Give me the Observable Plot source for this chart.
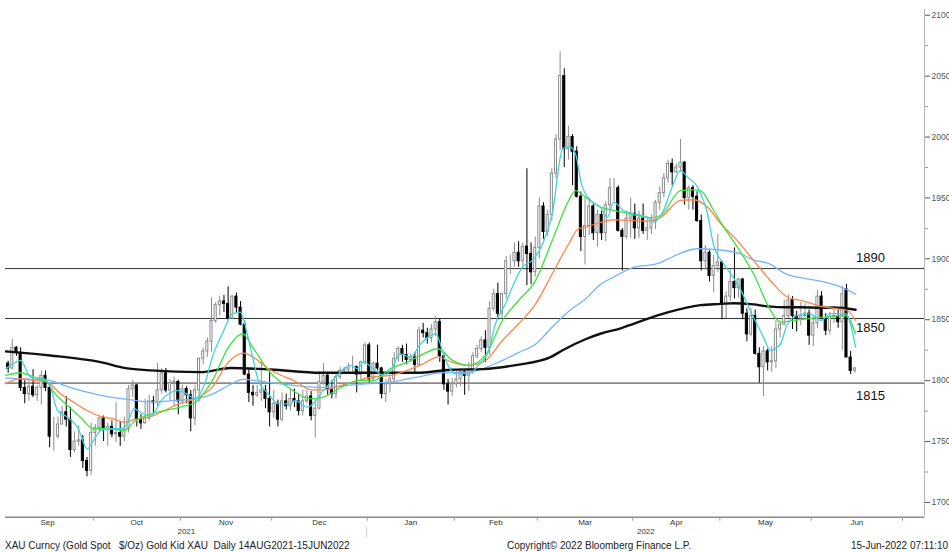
<!DOCTYPE html>
<html><head><meta charset="utf-8">
<script src="https://cdn.jsdelivr.net/npm/d3@7"></script>
<script src="https://cdn.jsdelivr.net/npm/@observablehq/plot@0.6"></script>
<style>
html,body{margin:0;padding:0;background:#fff;}
#wrap{position:relative;width:949px;height:552px;overflow:hidden;font-family:'Liberation Sans',Arial,sans-serif;background:#fff;}
#chart svg{display:block}
.foot{position:absolute;top:539px;font-size:10px;line-height:13px;color:#222;white-space:pre;}
</style></head><body>
<div id="wrap"><div id="chart"></div>
<div class="foot" id="f1" style="left:5px"></div>
<div class="foot" id="f2" style="left:507px"></div>
<div class="foot" id="f3" style="left:851px"></div>
</div>
<script>
// ---- Daily candles, 1 Sep 2021 .. 15 Jun 2022 (trading-day index = position) ----
const open = [
1813,1814,1810,1827,1823,1794,1789,1795,1788,1794,1804,1794,1754,1754,1764,1774,1768,1743,1750,1751,1734,1726,
1757,1761,1769,1760,1762,1756,1757,1754,1760,1793,1796,1768,1765,1769,1783,1782,1792,1806,1792,1798,1799,
1783,1793,1788,1769,1792,1818,1824,1832,1849,1862,1865,1863,1851,1869,1860,1846,1805,1790,1788,1790,1792,1785,
1774,1781,1768,1783,1779,1785,1783,1775,1783,1787,1771,1777,1799,1804,1793,1789,1803,1808,1809,1811,1811,1805,1815,
1829,1801,1814,1810,1789,1797,1801,1818,1826,1821,1817,1819,1813,1841,1839,1835,1842,1848,1820,1797,1791,
1797,1801,1807,1804,1808,1820,1826,1833,1827,1859,1871,1855,1871,1898,1898,1905,1898,1910,1904,1889,
1909,1943,1922,1936,1970,1998,2050,1990,2000,1988,1951,1918,1927,1943,1921,1936,1921,1944,1958,1958,1923,1918,1933,
1937,1925,1933,1923,1925,1931,1946,1954,1966,1978,1971,1975,1979,1950,1958,1951,1931,1898,1905,1886,1894,
1897,1863,1869,1881,1876,1883,1855,1838,1853,1822,1811,1824,1815,1816,1842,1846,1853,1866,1853,1851,1853,1855,
1837,1847,1869,1851,1841,1852,1853,1848,1875,1819,1808];
const high = [
1820,1816,1834,1828,1827,1800,1800,1809,1796,1808,1808,1797,1770,1770,1779,1787,1778,1758,1763,1755,1737,1765,
1764,1770,1771,1765,1767,1782,1766,1770,1796,1800,1797,1772,1785,1788,1787,1814,1810,1810,1801,1803,1800,
1796,1795,1792,1796,1818,1827,1835,1868,1864,1869,1870,1877,1870,1872,1865,1849,1810,1796,1796,1815,1796,1808,
1792,1784,1790,1789,1793,1793,1789,1792,1792,1791,1783,1807,1814,1806,1800,1807,1811,1811,1814,1820,1812,1816,1831,
1831,1815,1829,1811,1801,1804,1823,1828,1829,1830,1822,1823,1844,1847,1843,1846,1853,1851,1821,1801,1802,
1808,1810,1809,1815,1823,1829,1836,1841,1865,1875,1880,1872,1902,1903,1913,1914,1913,1974,1913,1918,
1950,1946,1940,1974,2002,2070,2056,2009,2002,1992,1955,1950,1950,1945,1940,1939,1947,1966,1966,1960,1925,1939,1950,
1945,1939,1945,1933,1936,1948,1959,1970,1981,1982,1978,1998,1980,1960,1960,1955,1936,1911,1907,1903,1920,
1898,1873,1891,1909,1884,1884,1859,1859,1858,1827,1828,1826,1828,1849,1849,1866,1870,1869,1857,1864,1863,1858,
1853,1874,1873,1855,1856,1860,1858,1877,1879,1824,1811];
const low = [
1808,1806,1809,1820,1791,1781,1783,1786,1783,1780,1791,1745,1742,1752,1764,1762,1737,1741,1746,1728,1721,1722,
1746,1757,1750,1746,1753,1749,1746,1750,1757,1786,1762,1760,1764,1767,1772,1779,1789,1790,1783,1779,1772,
1780,1781,1758,1763,1782,1813,1819,1823,1847,1853,1856,1849,1850,1855,1845,1804,1782,1779,1786,1783,1777,1762,
1769,1762,1766,1776,1775,1778,1771,1771,1781,1767,1753,1776,1796,1788,1785,1785,1801,1805,1805,1806,1790,1800,1813,
1798,1799,1808,1785,1782,1790,1799,1815,1815,1813,1815,1805,1812,1835,1830,1831,1836,1815,1792,1780,1787,
1794,1795,1788,1791,1805,1818,1823,1815,1821,1857,1850,1851,1867,1887,1893,1893,1894,1878,1879,1885,
1900,1916,1918,1931,1966,1989,1975,1981,1960,1950,1906,1895,1919,1915,1910,1915,1914,1939,1947,1922,1890,1916,1917,
1916,1917,1920,1915,1920,1924,1940,1950,1962,1960,1970,1971,1944,1940,1940,1930,1890,1891,1881,1872,1889,
1850,1851,1865,1867,1868,1850,1832,1836,1821,1798,1787,1808,1807,1810,1835,1845,1851,1842,1840,1845,1850,1829,
1828,1843,1850,1837,1838,1847,1843,1825,1819,1805,1806];
const close = [
1814,1810,1827,1823,1794,1789,1795,1788,1794,1804,1794,1754,1754,1764,1774,1768,1743,1750,1751,1734,1726,1757,
1761,1769,1760,1762,1756,1757,1754,1760,1793,1796,1768,1765,1769,1783,1782,1792,1806,1792,1798,1799,1783,
1793,1788,1769,1792,1818,1824,1832,1849,1862,1865,1863,1851,1869,1860,1846,1805,1790,1788,1790,1792,1785,1774,
1781,1768,1783,1779,1785,1783,1775,1783,1787,1771,1777,1799,1804,1793,1789,1803,1808,1809,1811,1811,1805,1815,1829,
1801,1814,1810,1789,1797,1801,1818,1826,1821,1817,1819,1813,1841,1839,1835,1842,1848,1820,1797,1791,1797,
1801,1807,1804,1808,1820,1826,1833,1827,1859,1871,1855,1871,1898,1898,1905,1898,1910,1904,1889,1909,
1943,1922,1936,1970,1998,2050,1990,2000,1988,1951,1918,1927,1943,1921,1936,1921,1944,1958,1958,1923,1918,1933,1937,
1925,1933,1923,1925,1931,1946,1954,1966,1978,1971,1975,1979,1950,1958,1951,1931,1898,1905,1886,1894,1897,
1863,1869,1881,1876,1883,1855,1838,1853,1822,1811,1824,1815,1816,1842,1846,1853,1866,1853,1851,1853,1855,1837,
1847,1869,1851,1841,1852,1853,1848,1871,1819,1808,1810];

// ---- Moving averages (trading-day index, value) ----
const cyanIdx = [0.4,2.3,4.0,6.4,9.6,11.2,12.9,15.3,17.7,20.1,21.6,23.3,25.7,28.1,29.7,31.3,32.9,35.3,38.2,42.1,44.5,46.1,48.6,50.2,52.6,55.1,57.0,58.2,59.9,61.3,63.7,66.1,68.6,70.2,73.1,77.0,80.3,83.5,85.2,86.6,89.0,91.5,93.1,95.5,97.9,100.4,104.0,106.4,108.8,111.9,114.3,116.8,118.4,120.8,122.5,124.9,127.3,129.8,132.1,134.6,136.1,137.7,139.1,141.3,143.7,145.4,146.9,149.3,151.7,155.0,156.6,158.9,161.3,163.0,164.7,167.1,169.5,171.0,173.4,176.7,180.6,183.0,184.7,187.1,188.8,191.2,194.3,196.8,199.2,202.8,205.2];
const cyanVal = [1810,1814,1816.6,1803,1801.6,1794.7,1775.5,1770,1761.8,1744,1751,1759,1760.5,1760.5,1764.6,1777,1774,1771,1785,1792,1788,1785,1800,1819.3,1838.5,1855,1856.3,1844,1819.3,1800.2,1789.2,1781,1781,1783.7,1778.2,1792,1804.3,1812.5,1809.8,1815.2,1809.8,1804.3,1808.4,1822,1819.3,1830.3,1838.5,1816.6,1805.7,1805.7,1812.5,1824.8,1846.7,1863,1876.8,1893.2,1898.7,1912.4,1937,1990.4,1992.3,1986.3,1962,1948,1942.5,1934.2,1946.6,1939.7,1937,1934.2,1930.1,1939.7,1961.7,1972.6,1967,1958.9,1937,1911,1896,1879.6,1852,1835.7,1824.8,1830.3,1846.7,1853.5,1854.9,1849.4,1855,1855,1827.5];
const greenIdx = [0.4,4.0,7.2,10.4,12.0,15.3,18.4,21.6,25.7,28.9,31.3,34.1,42.1,46.1,50.2,54.1,57.5,59.9,63.7,69.0,73.9,77.0,81.1,85.2,89.0,93.1,97.2,101.1,104.5,108.1,111.9,116.0,120.1,124.0,128.1,132.1,136.1,137.7,140.1,143.7,146.9,150.9,155.8,158.2,163.0,166.2,167.8,171.0,172.7,176.7,180.6,184.7,187.1,190.2,196.8,202.8,205.2];
const greenVal = [1804.3,1806.5,1803,1798.8,1790.6,1779.6,1770,1760.5,1760.5,1759,1766,1771,1778,1782.3,1800,1827.5,1838.5,1827.5,1808.4,1793.3,1785,1786.5,1794.2,1800,1800,1809.8,1815.2,1822,1826.2,1816.6,1812.5,1820.7,1849.4,1865.8,1882.3,1915,1948,1956,1950.7,1942.5,1939.7,1937,1933.7,1935.6,1956,1956.7,1956,1939.7,1930,1909.6,1887.8,1857.6,1848,1849.4,1852,1853.5,1838.5];
const orangeIdx = [0.4,4.0,7.2,10.4,13.6,16.8,20.0,23.3,26.3,28.9,31.3,35.0,42.1,46.1,50.2,54.1,57.7,60.6,63.7,67.8,70.2,73.9,77.0,81.1,85.2,89.0,93.1,97.2,101.1,104.5,108.1,111.9,116.0,120.1,124.0,128.1,132.1,136.1,138.4,140.1,146.9,155.0,158.2,163.0,166.2,169.5,172.7,176.7,180.6,184.7,188.8,192.7,196.8,200.8,203.2,205.2];
const orangeVal = [1797.5,1801.6,1800.2,1798.8,1789.2,1782.3,1775.5,1770.6,1768.7,1766,1767.9,1770,1781,1785,1794.7,1815.2,1822.6,1818,1809.8,1802.9,1799.5,1792.5,1792.5,1796,1800,1803,1804.3,1808.4,1814,1819.3,1815,1812.5,1816.6,1833,1846.7,1863,1887.8,1912.4,1924.7,1926,1932,1931,1934,1948,1948.5,1942.5,1928.8,1915,1898.7,1882,1868.5,1865.3,1861,1859,1857.6,1849.4];
const blueIdx = [0.4,7.1,11.2,15.3,23.3,31.2,35.3,42.1,46.1,50.2,54.1,57.5,60.6,66.1,70.2,77.0,85.2,93.1,101.1,105.2,111.9,120.1,124.0,128.1,132.1,136.1,140.1,143.7,146.9,151.7,157.5,160.0,167.1,171.9,177.5,180.7,184.0,188.8,191.9,196.8,201.6,205.2];
const blueVal = [1802,1801,1800,1795,1788,1784,1782.5,1784,1785,1789,1796,1801,1800,1797.5,1796,1794.5,1797,1799,1804,1806.5,1807,1816.6,1823,1830,1844,1857,1867,1879,1885,1893,1896,1900,1908.3,1907.5,1904,1899,1896.5,1887,1884.5,1881.7,1877,1871];
const blackIdx = [0.4,11.2,23.3,29.3,35.3,47.3,54.6,64.2,76.3,87.6,99.6,107.6,115.5,123.7,131.7,134.6,140.1,143.7,148.6,151.7,159.9,167.8,172.7,175.8,180.6,184.0,188.8,191.9,196.8,199.9,205.2];
const blackVal = [1824,1820.7,1815.2,1810.3,1808.4,1807,1810.4,1809.2,1806.5,1806.5,1806.5,1809,1809.5,1813,1819.3,1825,1834,1838.5,1843,1846.7,1856,1862,1863,1863.6,1862.6,1861,1860.3,1860.3,1859.8,1860,1858.2];

// ---- Levels and axis labels ----
const levelValues = [1892, 1851, 1798];
const levelLabels = ["1890", "1850", "1815"];
const yMajor = [1700, 1750, 1800, 1850, 1900, 1950, 2000, 2050, 2100];
const yMinor = [1725, 1775, 1825, 1875, 1925, 1975, 2025, 2075];
const monthLabels = ["Sep", "Oct", "Nov", "Dec", "Jan", "Feb", "Mar", "Apr", "May", "Jun"];
const monthStarts = [0, 22, 43, 65, 88, 109, 129, 152, 173, 195, 217]; // first trading day of each month
const yearLabels = ["2021", "2022"];
const yearStarts = [0, 88];
const xDomain = [0.36, 221.8];
const yDomain = [1687.9, 2104.7];
const footer = ["XAU Curncy (Gold Spot   $/Oz) Gold Kid XAU  Daily 14AUG2021-15JUN2022",
                "Copyright\u00A9 2022 Bloomberg Finance L.P.",
                "15-Jun-2022 07:11:10"];

// ---- build ----
const candles = close.map((c, i) => ({i, o: open[i], h: high[i], l: low[i], c}));
const up = d => d.c >= d.o;
const series = (idx, val) => idx.map((i, k) => ({i, v: val[k]}));

const bounds = monthStarts.map(s => s - 0.5);
const monthCenters = monthLabels.map((m, k) => (bounds[k] + bounds[k + 1]) / 2);
const monthMap = new Map(monthCenters.map((c, k) => [c, monthLabels[k]]));
const yearEdges = [...yearStarts.map(s => Math.max(xDomain[0], s - 0.5)), xDomain[1]];
const yearCenters = yearLabels.map((y, k) => (yearEdges[k] + yearEdges[k + 1]) / 2);
const yearMap = new Map(yearCenters.map((c, k) => [c, yearLabels[k]]));

const hw = 0.25;
const maLine = (idx, val, color, w) => Plot.line(series(idx, val), {x: "i", y: "v", stroke: color, strokeWidth: w, curve: "monotone-x", clip: true});
const levelText = (k, dy) => Plot.text([levelValues[k]], {y: d => d, text: () => levelLabels[k], frameAnchor: "right", dx: -54, dy, fontSize: 13, fill: "#111", textAnchor: "middle"});

const chart = Plot.plot({
  width: 949, height: 539,
  marginLeft: 5, marginRight: 25, marginTop: 9, marginBottom: 22.3,
  x: {domain: xDomain, label: null},
  y: {domain: yDomain, label: null},
  style: {fontFamily: "'Liberation Sans', Arial, sans-serif", background: "white", color: "#333", overflow: "visible"},
  marks: [
    Plot.ruleY(levelValues, {stroke: "#333", strokeWidth: 1}),
    Plot.ruleX(candles, {filter: up, x: "i", y1: "l", y2: "h", stroke: "#8c8c8c", strokeWidth: 1, clip: true}),
    Plot.ruleX(candles, {filter: d => !up(d), x: "i", y1: "l", y2: "h", stroke: "#000", strokeWidth: 1, clip: true}),
    Plot.rect(candles, {filter: up, x1: d => d.i - hw, x2: d => d.i + hw, y1: "o", y2: "c", fill: "white", stroke: "#8c8c8c", strokeWidth: 1, clip: true}),
    Plot.rect(candles, {filter: d => !up(d), x1: d => d.i - hw, x2: d => d.i + hw, y1: "o", y2: "c", fill: "#000", stroke: "#000", strokeWidth: 1, clip: true}),
    maLine(blueIdx, blueVal, "#74b4ff", 1.3),
    maLine(blackIdx, blackVal, "#111", 2.4),
    maLine(orangeIdx, orangeVal, "#ff8448", 1.3),
    maLine(greenIdx, greenVal, "#3ee23e", 1.3),
    maLine(cyanIdx, cyanVal, "#40d2e2", 1.3),
    levelText(0, -10.5),
    levelText(1, 9),
    levelText(2, 12.3),
    Plot.ruleY([yDomain[0]], {stroke: "#8a8a8a", strokeWidth: 1.5}),
    Plot.ruleX([xDomain[1]], {stroke: "#b5b5b5", strokeWidth: 1}),
    Plot.axisY(yMajor, {anchor: "right", tickSize: 5, tickPadding: 2, fontSize: 8.5, tickFormat: d => String(d), color: "#555", label: null}),
    Plot.axisY(yMinor, {anchor: "right", tickSize: 3, tickFormat: () => "", color: "#999", label: null}),
    Plot.axisX(bounds.slice(1), {anchor: "bottom", tickSize: 4, tickFormat: () => "", color: "#999", label: null}),
    Plot.axisX(monthCenters, {anchor: "bottom", tickSize: 0, tickPadding: 2, tickFormat: d => monthMap.get(d), fontSize: 8, color: "#333", label: null}),
    Plot.axisX(yearCenters, {anchor: "bottom", tickSize: 0, tickPadding: 11.5, tickFormat: d => yearMap.get(d), fontSize: 8, color: "#333", label: null})
  ]
});
document.getElementById("chart").appendChild(chart);

// year separator below the axis, positioned through the plot's own scales
const xs = chart.scale("x"), ys = chart.scale("y");
const sepX = xs.apply(yearStarts[1] - 0.5), base = ys.apply(yDomain[0]);
d3.select(chart).append("line")
  .attr("x1", sepX).attr("x2", sepX).attr("y1", base + 10).attr("y2", base + 21)
  .attr("stroke", "#d0d0d0").attr("stroke-width", 1);

document.getElementById("f1").textContent = footer[0];
document.getElementById("f2").textContent = footer[1];
document.getElementById("f3").textContent = footer[2];
</script>
</body></html>
